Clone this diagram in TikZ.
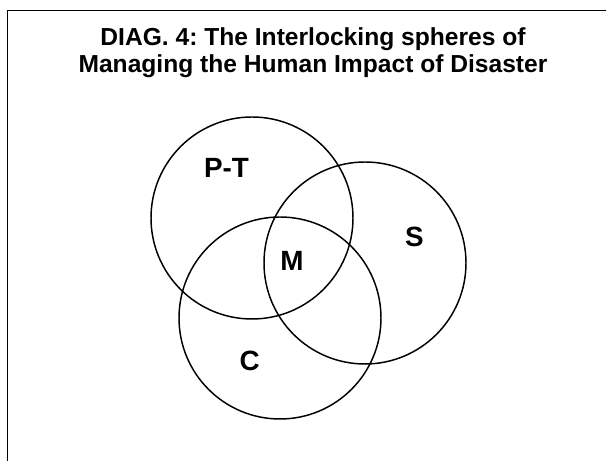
\documentclass[tikz,border=0pt]{standalone}
\usepackage{fontspec}
\setmainfont{Liberation Sans}
\usepackage{tikz}
\frenchspacing

\tikzset{
    titol/.style={font=\bfseries\fontsize{17.5}{20}\selectfont, inner sep=0pt, anchor=base},
    esfera/.style={line width=1.05pt, black},
    lletra/.style={font=\bfseries\fontsize{19.8}{22}\selectfont, inner sep=0pt}
}

\begin{document}
\begin{tikzpicture}[scale=0.5]
    % MIDA DEL FULL
    \clip (0,0) rectangle (30.3, 23.05);

    % MARC (la dreta i la base queden fora)
    \draw[line width=1.4pt] (0.375, -1) -- (0.375, 22.525) -- (31, 22.525);

    % TITOL
    \node[titol] (titol1) at (15.65, 20.75) {DIAG. 4: The Interlocking spheres of};
    \node[titol] (titol2) at (15.65, 19.4) {Managing the Human Impact of Disaster};

    % ESFERES
    \draw[esfera] (12.6, 12.15) circle (5.05);
    \draw[esfera] (18.25, 9.9) circle (5.05);
    \draw[esfera] (14.0, 7.15) circle (5.05);

    % LLETRES
    \node[lletra] (pt) at (11.325, 14.65) {P-T};
    \node[lletra] (m) at (14.6, 10.0) {M};
    \node[lletra] (s) at (20.725, 11.2) {S};
    \node[lletra] (c) at (12.485, 5.025) {C};

\end{tikzpicture}
\end{document}
